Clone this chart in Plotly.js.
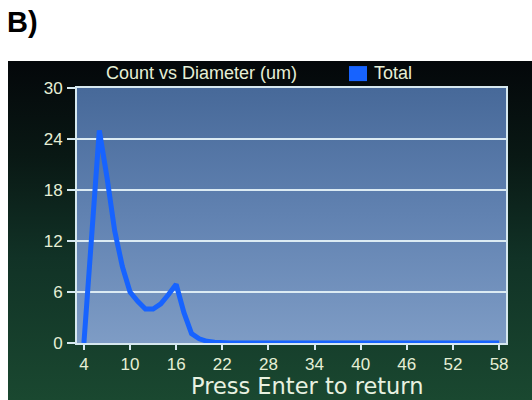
<!DOCTYPE html>
<html>
<head>
<meta charset="utf-8">
<script src="https://cdn.plot.ly/plotly-3.0.1.min.js"></script>
<style>
  html, body { margin: 0; padding: 0; background: #ffffff; }
  #wrap { position: relative; width: 532px; height: 400px; overflow: hidden; }
  #frame { position: absolute; left: 8px; top: 61px; width: 524px; height: 339px;
    background: linear-gradient(to bottom, #04070a 0%, #091814 28%, #113226 58%, #1a4830 100%); }
  #plotbg { position: absolute; left: 77px; top: 88px; width: 429px; height: 255px;
    background: linear-gradient(to bottom, #476999 0%, #6182b1 50%, #7e9cc5 100%); }
  #chart { position: absolute; left: 0; top: 0; width: 532px; height: 400px; }
</style>
</head>
<body>
<div id="wrap">
  <div id="frame"></div>
  <div id="plotbg"></div>
  <div id="chart"></div>
</div>
<script>
// Diameter (um) and counts
const diameter = [4,5,6,7,8,9,10,11,12,13,14,15,16,17,18,19,20,21,22,23,24,25,26,27,28,29,30,31,32,33,34,35,36,37,38,39,40,41,42,43,44,45,46,47,48,49,50,51,52,53,54,55,56,57,58];
const count    = [0,13,25,19.5,13.2,9,6,4.9,4,4,4.6,5.7,6.9,3.6,1.1,0.5,0.2,0.1,0,0,0,0,0,0,0,0,0,0,0,0,0,0,0,0,0,0,0,0,0,0,0,0,0,0,0,0,0,0,0,0,0,0,0,0,0];
const xTicks = [4,10,16,22,28,34,40,46,52,58];
const yTicks = [0,6,12,18,24,30];
const seriesName = "Total";
const chartTitle = "Count vs Diameter (um)";
const footerText = "Press Enter to return";
const panelLabel = "B)";

const txt = "#e6efd6";
const lineLight = "#d6e8ef";
const narrow = "Liberation Sans, Arial, sans-serif";
const tickFont = {family: narrow, size: 17, color: txt};

const trace = {
  x: diameter, y: count, type: "scatter", mode: "lines", name: seriesName,
  line: {color: "#1763ff", width: 5}, showlegend: false
};

const layout = {
  width: 532, height: 400,
  margin: {l: 77, r: 26, t: 88, b: 57},
  paper_bgcolor: "rgba(0,0,0,0)",
  plot_bgcolor: "rgba(0,0,0,0)",
  xaxis: {
    range: [3.1, 58.9], tickvals: xTicks, ticktext: xTicks.map(String),
    ticks: "outside", ticklen: 5, tickwidth: 2, tickcolor: lineLight,
    ticklabelstandoff: 0,
    showgrid: false, zeroline: false,
    showline: true, mirror: true, linecolor: lineLight, linewidth: 2,
    layer: "below traces", tickfont: tickFont
  },
  yaxis: {
    range: [0, 30], tickvals: yTicks, ticktext: yTicks.map(String),
    ticks: "outside", ticklen: 8, tickwidth: 2, tickcolor: lineLight,
    ticklabelstandoff: 1,
    showgrid: true, gridcolor: "#dcebf3", gridwidth: 2, zeroline: false,
    showline: true, mirror: true, linecolor: lineLight, linewidth: 2,
    layer: "below traces", tickfont: tickFont
  },
  shapes: [
    {type: "rect", xref: "paper", yref: "paper", x0: 0.634, x1: 0.676, y0: 1.027, y1: 1.086,
     fillcolor: "#1763ff", line: {width: 0}}
  ],
  annotations: [
    {text: chartTitle, xref: "paper", yref: "paper", x: 0.29, y: 1.059, xanchor: "center", yanchor: "middle",
     showarrow: false, font: {family: narrow, size: 18, color: txt}},
    {text: seriesName, xref: "paper", yref: "paper", x: 0.688, y: 1.059, xanchor: "left", yanchor: "middle",
     showarrow: false, font: {family: narrow, size: 18, color: txt}},
    {text: footerText, xref: "paper", yref: "paper", x: 0.537, y: -0.168, xanchor: "center", yanchor: "middle",
     borderpad: 0, showarrow: false, font: {family: "DejaVu Sans, sans-serif", size: 22.5, color: "#e8f1e0"}},
    {text: "<b>" + panelLabel + "</b>", xref: "paper", yref: "paper", x: -0.128, y: 1.259, xanchor: "center", yanchor: "middle",
     showarrow: false, font: {family: "Liberation Sans, Arial, sans-serif", size: 29, color: "#000000"}}
  ]
};

Plotly.newPlot("chart", [trace], layout, {displayModeBar: false, staticPlot: true});
</script>
</body>
</html>
